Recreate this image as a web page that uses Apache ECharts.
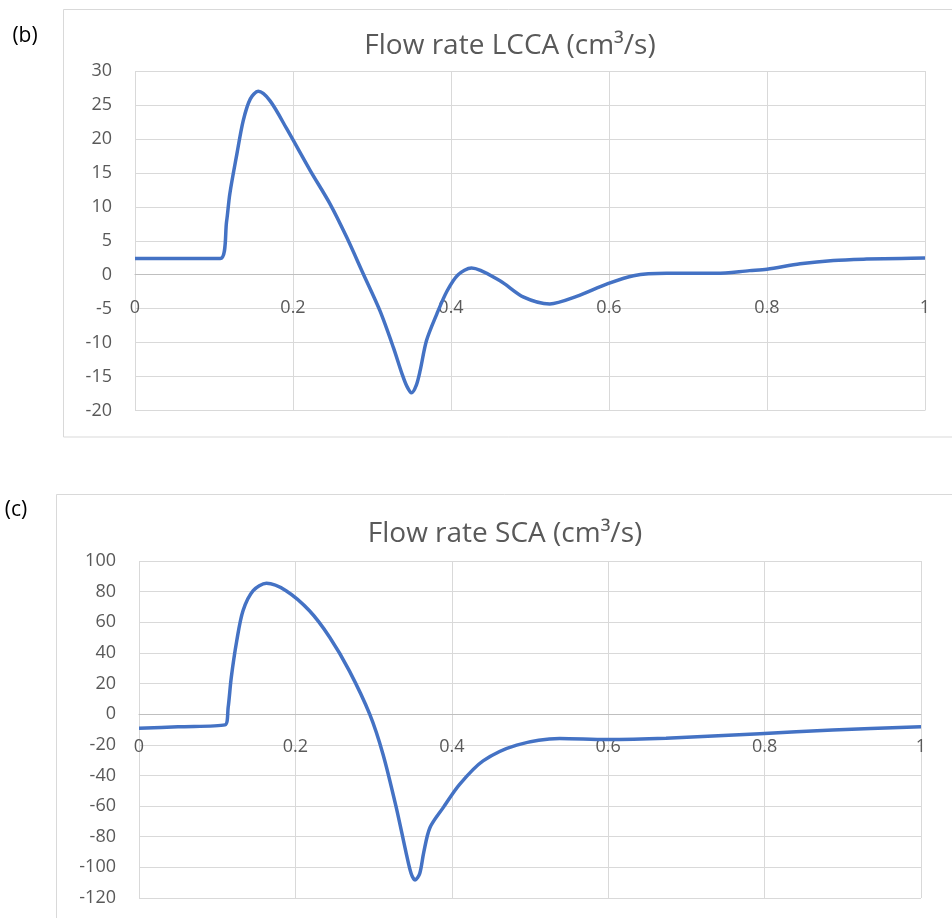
<!DOCTYPE html>
<html>
<head>
<meta charset="utf-8">
<script src="https://cdn.jsdelivr.net/npm/echarts@6/dist/echarts.min.js"></script>
<style>
  html, body { margin: 0; padding: 0; background: #ffffff; }
  #chart { width: 952px; height: 918px; }
</style>
</head>
<body>
<div id="chart"></div>
<script>
// Left common carotid artery flow over one cardiac cycle (time, cm^3/s)
const lccaTime = [0, 0.05, 0.108, 0.116, 0.120, 0.129, 0.137, 0.146, 0.156, 0.171, 0.192, 0.222, 0.247, 0.268, 0.289, 0.310, 0.327, 0.338, 0.344, 0.350, 0.356, 0.361, 0.369, 0.382, 0.395, 0.409, 0.426, 0.462, 0.492, 0.525, 0.559, 0.597, 0.631, 0.673, 0.736, 0.778, 0.800, 0.842, 0.884, 0.926, 0.970, 1.0];
const lccaFlow = [2.4, 2.4, 2.4, 7.9, 11.9, 17.8, 22.7, 25.9, 27.0, 25.6, 21.5, 15.3, 10.4, 5.5, 0.1, -5.3, -10.7, -14.6, -16.4, -17.4, -16.3, -14.1, -9.7, -5.8, -2.4, 0, 1.0, -0.9, -3.3, -4.3, -3.2, -1.4, -0.15, 0.2, 0.2, 0.6, 0.8, 1.6, 2.1, 2.3, 2.4, 2.45];

// Subclavian artery flow over one cardiac cycle (time, cm^3/s)
const scaTime = [0, 0.05, 0.110, 0.114, 0.118, 0.125, 0.133, 0.146, 0.163, 0.188, 0.218, 0.244, 0.269, 0.295, 0.312, 0.329, 0.342, 0.348, 0.353, 0.359, 0.364, 0.372, 0.389, 0.410, 0.440, 0.483, 0.538, 0.598, 0.674, 0.794, 0.887, 1.0];
const scaFlow = [-9.2, -8.2, -7.0, 4.3, 23.9, 47.9, 67.5, 80.6, 85.4, 80.6, 67.5, 50.1, 28.3, 0, -26.1, -61, -91.5, -104.0, -108.3, -104.0, -90.5, -74.1, -61, -45.8, -30.5, -20.2, -15.9, -16.6, -15.7, -12.7, -10.3, -8.2];

// Axis ranges and tick steps
const timeTicks = [0, 0.2, 0.4, 0.6, 0.8, 1];
const lccaRange = { min: -20, max: 30, step: 5 };
const scaRange = { min: -120, max: 100, step: 20 };

const textColor = '#595959';
const gridColor = '#d9d9d9';
const lineColor = '#4472c4';
const fontFamily = '"Open Sans", sans-serif';

const grids = [
  { left: 135, top: 71, width: 790, height: 339.5 },
  { left: 139, top: 561, width: 782, height: 337 }
];

function pairs(xs, ys) { return xs.map((x, i) => [x, ys[i]]); }

// The time axis crosses the flow axis at zero: shift it up from the grid bottom
function timeAxis(gridIndex, r) {
  const lift = (0 - r.min) / (r.max - r.min) * grids[gridIndex].height;
  return {
    type: 'value', gridIndex, min: timeTicks[0], max: timeTicks[timeTicks.length - 1],
    interval: timeTicks[1] - timeTicks[0],
    position: 'bottom', offset: -lift,
    axisLine: { show: true, onZero: false, lineStyle: { color: '#bfbfbf', width: 1 } },
    axisTick: { show: false },
    axisLabel: { color: textColor, fontSize: 18, fontFamily, margin: 24,
      formatter: v => String(Math.round(v * 10) / 10) },
    splitLine: { show: true, lineStyle: { color: gridColor, width: 1 } }
  };
}

function flowAxis(gridIndex, r) {
  return {
    type: 'value', gridIndex, min: r.min, max: r.max, interval: r.step,
    axisLine: { show: false, onZero: false }, axisTick: { show: false },
    axisLabel: { color: textColor, fontSize: 18, fontFamily, margin: 23 },
    splitLine: { show: true, lineStyle: { color: gridColor, width: 1 } }
  };
}

function flowSeries(idx, data) {
  return {
    type: 'line', xAxisIndex: idx, yAxisIndex: idx, data,
    smooth: 0.3, showSymbol: false, symbol: 'none',
    lineStyle: { color: lineColor, width: 3.5 }, z: 5
  };
}

const chart = echarts.init(document.getElementById('chart'), null, { renderer: 'canvas' });
chart.setOption({
  animation: false,
  backgroundColor: '#ffffff',
  grid: grids,
  xAxis: [timeAxis(0, lccaRange), timeAxis(1, scaRange)],
  yAxis: [flowAxis(0, lccaRange), flowAxis(1, scaRange)],
  series: [flowSeries(0, pairs(lccaTime, lccaFlow)), flowSeries(1, pairs(scaTime, scaFlow))],
  graphic: [
    { type: 'rect', shape: { x: 63.5, y: 9.5, width: 960, height: 427.5 },
      style: { fill: 'none', stroke: gridColor, lineWidth: 1 }, silent: true },
    { type: 'rect', shape: { x: 56.5, y: 494.5, width: 960, height: 500 },
      style: { fill: 'none', stroke: gridColor, lineWidth: 1 }, silent: true },
    { type: 'text', x: 510, y: 46, style: { text: 'Flow rate LCCA (cm³/s)', fill: textColor,
      font: '28px ' + fontFamily, textAlign: 'center', textVerticalAlign: 'middle' } },
    { type: 'text', x: 505, y: 534, style: { text: 'Flow rate SCA (cm³/s)', fill: textColor,
      font: '28px ' + fontFamily, textAlign: 'center', textVerticalAlign: 'middle' } },
    { type: 'text', x: 25, y: 36, style: { text: '(b)', fill: '#000000',
      font: '21px ' + fontFamily, textAlign: 'center', textVerticalAlign: 'middle' } },
    { type: 'text', x: 16, y: 510, style: { text: '(c)', fill: '#000000',
      font: '21px ' + fontFamily, textAlign: 'center', textVerticalAlign: 'middle' } }
  ]
});
</script>
</body>
</html>
